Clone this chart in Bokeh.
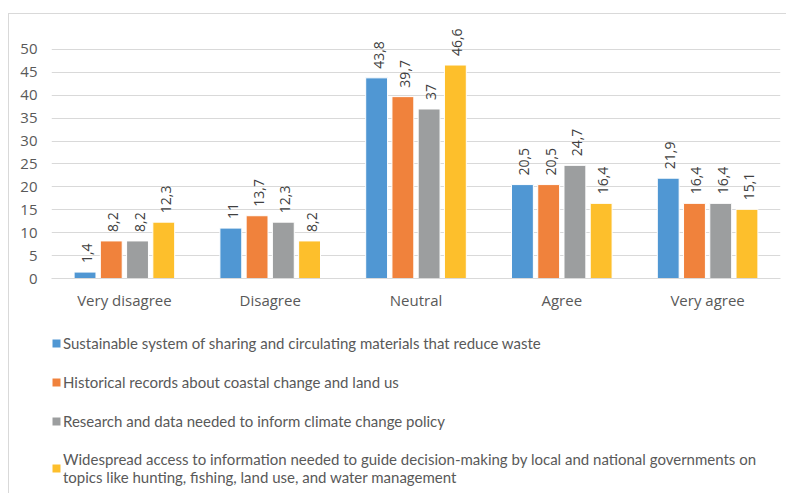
import math
from bokeh.plotting import figure
from bokeh.layouts import column
from bokeh.models import (ColumnDataSource, FactorRange, FixedTicker, Legend,
                          LegendItem)
from bokeh.transform import dodge
from bokeh.core.properties import value
from bokeh.embed import file_html
from bokeh.resources import INLINE

categories = ["Very disagree", "Disagree", "Neutral", "Agree", "Very agree"]
series_names = [
    "Sustainable system of sharing and circulating materials that reduce waste",
    "Historical records about coastal change and land us",
    "Research and data needed to inform climate change policy",
    "Widespread access to information needed to guide decision-making by local and national governments on\ntopics like hunting, fishing, land use, and water management",
]
sharing = [1.4, 11.0, 43.8, 20.5, 21.9]
historical = [8.2, 13.7, 39.7, 20.5, 16.4]
research = [8.2, 12.3, 37.0, 24.7, 16.4]
access = [12.3, 8.2, 46.6, 16.4, 15.1]
y_ticks = [0, 5, 10, 15, 20, 25, 30, 35, 40, 45, 50]

series = [sharing, historical, research, access]
keys = ["s0", "s1", "s2", "s3"]
colors = ["#5097D3", "#F0823C", "#9C9E9F", "#FDBF2C"]
offsets = [-0.27, -0.09, 0.09, 0.27]

def fmt(v):
    s = ("%g" % v)
    return s.replace(".", ",")

data = {"cat": categories}
for k, vals in zip(keys, series):
    data[k] = vals
    data[k + "_lbl"] = [fmt(v) for v in vals]
source = ColumnDataSource(data)

border = "1px solid #D9D9D9"

p = figure(x_range=FactorRange(*categories, range_padding=0),
           y_range=(0, 56.1), width=778, height=307,
           output_backend="svg", toolbar_location=None,
           min_border_left=42, min_border_right=7, min_border_top=7,
           min_border_bottom=43)
p.outline_line_color = None
p.background_fill_color = "white"
p.border_fill_color = "white"
p.styles = {"border-top": border, "border-left": border}

for k, c, off in zip(keys, colors, offsets):
    p.vbar(x=dodge("cat", off, range=p.x_range), top=k, width=0.15,
           source=source, fill_color=c, line_color="white", line_width=1)
    p.text(x=dodge("cat", off, range=p.x_range), y=k, text=k + "_lbl",
           source=source, angle=math.pi / 2, text_align="left",
           text_baseline="middle", y_offset=-9, x_offset=2,
           text_font=value("Open Sans"), text_font_size="14px",
           text_color="#404040")

p.yaxis.ticker = FixedTicker(ticks=y_ticks)
p.yaxis.axis_line_color = None
p.yaxis.major_tick_line_color = None
p.yaxis.minor_tick_line_color = None
p.yaxis.major_tick_out = 0
p.yaxis.major_label_standoff = 14
p.yaxis.major_label_text_font = "Open Sans"
p.yaxis.major_label_text_font_size = "15px"
p.yaxis.major_label_text_color = "#595959"

p.xaxis.axis_line_color = "#D9D9D9"
p.xaxis.major_tick_line_color = None
p.xaxis.major_tick_out = 0
p.xaxis.major_label_standoff = 11
p.xaxis.major_label_text_font = "Open Sans"
p.xaxis.major_label_text_font_size = "15px"
p.xaxis.major_label_text_color = "#595959"

p.xgrid.grid_line_color = None
p.ygrid.grid_line_color = "#D9D9D9"
p.ygrid.ticker = FixedTicker(ticks=y_ticks)

# legend panel
lg = figure(width=778, height=173, output_backend="svg", toolbar_location=None,
            x_range=(0, 1), y_range=(0, 1),
            x_axis_type=None, y_axis_type=None,
            min_border_left=37, min_border_right=0, min_border_top=13,
            min_border_bottom=0)
lg.grid.visible = False
lg.outline_line_color = None
lg.styles = {"border-left": border}
offscreen = ColumnDataSource(dict(x=[5.0], top=[0.0]))
legend_items = []
for c, name in zip(colors, series_names):
    r = lg.vbar(x="x", top="top", width=0.1, source=offscreen,
                fill_color=c, line_color=None)
    legend_items.append(LegendItem(label=name, renderers=[r]))

legend = Legend(items=legend_items, location="top_left", orientation="vertical",
                padding=0, margin=0, spacing=19, label_height=20,
                glyph_width=10, glyph_height=10, label_standoff=2,
                border_line_color=None, background_fill_alpha=0,
                label_text_font="Lato",
                label_text_font_size="15px", label_text_color="#595959",
                label_text_line_height=1.65)
lg.add_layout(legend, "center")

layout = column(p, lg, spacing=0, margin=(13, 0, 0, 8))

open("out.html", "w").write(file_html(layout, INLINE))
